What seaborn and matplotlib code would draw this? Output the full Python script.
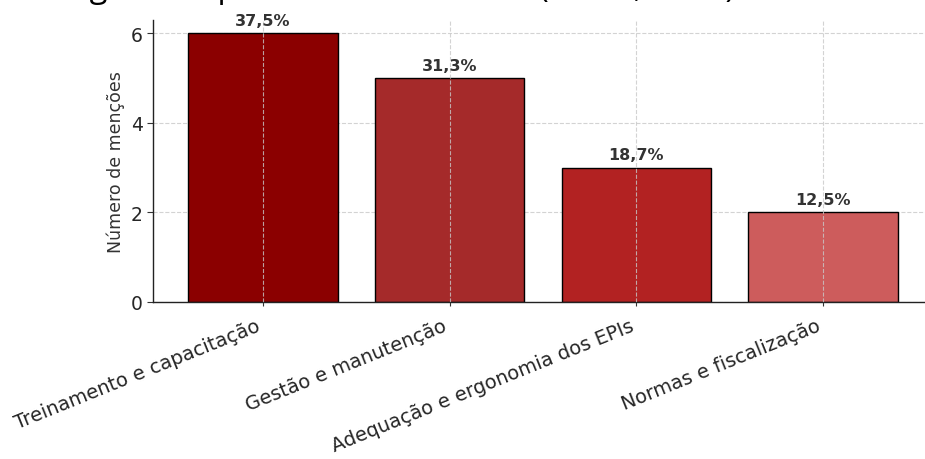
import matplotlib
matplotlib.use("Agg")
import matplotlib.pyplot as plt
import seaborn as sns
import pandas as pd

# Data
categorias = [
    "Treinamento e capacitação",
    "Gestão e manutenção",
    "Adequação e ergonomia dos EPIs",
    "Normas e fiscalização",
]
mencoes = [6, 5, 3, 2]
percentuais = ["37,5%", "31,3%", "18,7%", "12,5%"]
cores = ["#8B0000", "#A52A2A", "#B22222", "#CD5C5C"]
titulo = "Categorias e pontos de melhorias (Autor, 2024)"

sns.set_style("white")
plt.rcParams["font.family"] = ["DejaVu Sans"]

df = pd.DataFrame({"categoria": categorias, "mencoes": mencoes})

fig = plt.figure(figsize=(9.25, 4.6), dpi=100)
ax = fig.add_axes([153 / 925, 157 / 460, 780 / 925, 282 / 460])

sns.barplot(
    data=df, x="categoria", y="mencoes", hue="categoria",
    palette=cores, legend=False, edgecolor="black", linewidth=1.0,
    width=0.8, ax=ax, saturation=1,
)

ax.set_xlim(-0.59, 3.59)
ax.set_ylim(0, 6.3)
ax.set_yticks([0, 2, 4, 6])

# grid: horizontal behind the bars, vertical over them
ax.set_axisbelow(True)
ax.grid(True, axis="both", linestyle="--", color="#c8c8c8", linewidth=0.8, alpha=0.8)
ax.xaxis.set_zorder(2.5)

# percentage labels above each bar
bars = sorted([p for p in ax.patches if p.get_height() > 0], key=lambda p: p.get_x())
for bar, lab in zip(bars, percentuais):
    ax.annotate(lab, (bar.get_x() + bar.get_width() / 2, bar.get_height()),
                xytext=(0, 4), textcoords="offset points", ha="center", va="bottom",
                fontsize=11.5, fontweight="bold", color="#333333")

ax.set_xlabel("")
ax.set_ylabel("Número de menções", fontsize=12.5, color="#333333", labelpad=4)
ax.tick_params(axis="y", labelsize=13.5, length=4, color="#333333", left=True)
ax.tick_params(axis="x", labelsize=14, length=3, pad=7, color="#333333", bottom=True)
plt.setp(ax.get_xticklabels(), rotation=22, ha="right")

for s in ["top", "right"]:
    ax.spines[s].set_visible(False)
for s in ["left", "bottom"]:
    ax.spines[s].set_color("#222222")
    ax.spines[s].set_linewidth(1.0)

# title cut off at the top edge of the image (only descenders show)
fig.text(21 / 925, 1 + 3 / 460, titulo, fontsize=23.5, family=["Open Sans", "DejaVu Sans"],
         color="black", ha="left", va="baseline")

fig.savefig("out.png", dpi=100)
